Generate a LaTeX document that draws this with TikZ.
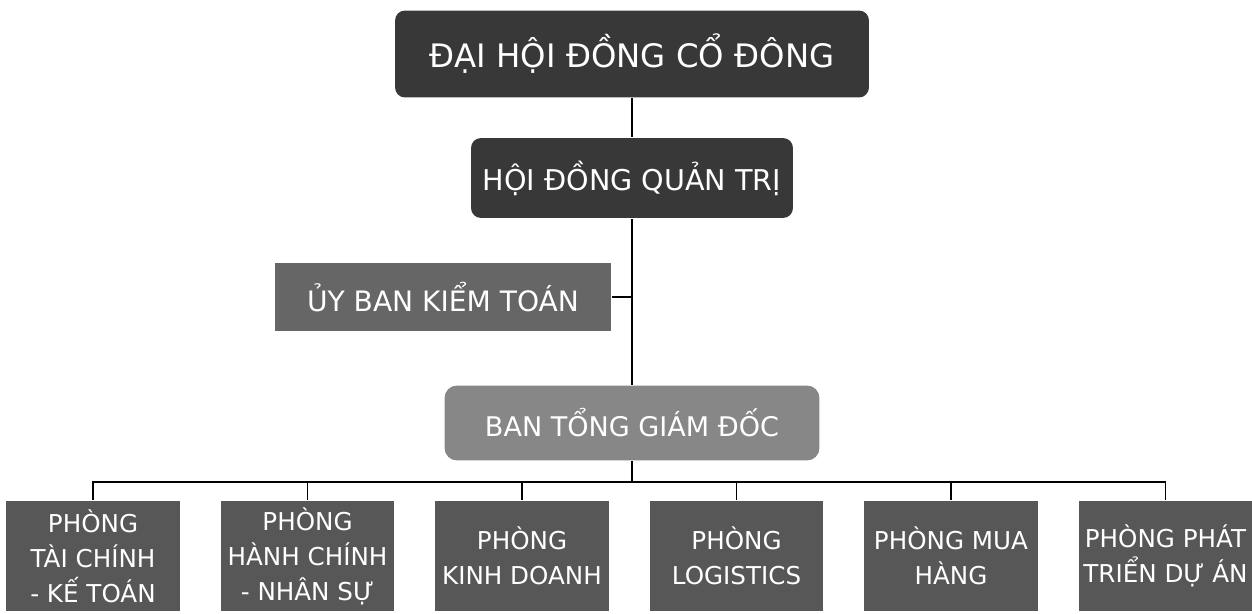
\documentclass[tikz,border=0pt]{standalone}
\usepackage{fontspec}
\setmainfont{DejaVu Sans}
\tikzset{
  board/.style={fill=black!78, text=white, rounded corners=0.2cm, inner sep=0pt},
  committee/.style={fill=black!60, text=white, inner sep=0pt},
  direction/.style={fill=black!47, text=white, rounded corners=0.25cm, inner sep=0pt},
  dept/.style={fill=black!66, text=white, inner sep=0pt, align=center,
    minimum width=3.48cm, minimum height=2.2cm, font=\fontsize{14}{20}\selectfont}
}
\begin{document}
\begin{tikzpicture}[x=0.02cm, y=-0.02cm, line width=1.1pt]
    \useasboundingbox (0,0) rectangle (1252,614);
    \node[board, minimum width=9.48cm, minimum height=1.74cm, font=\fontsize{18.4}{22}\selectfont] (DHCD) at (632,54) {ĐẠI HỘI ĐỒNG CỔ ĐÔNG};
    \node[board, minimum width=6.44cm, minimum height=1.6cm, font=\fontsize{16.3}{20}\selectfont] (HDQT) at (632,178) {HỘI ĐỒNG QUẢN TRỊ};
    \node[committee, minimum width=6.74cm, minimum height=1.36cm, font=\fontsize{16}{20}\selectfont] (UBKT) at (443,297) {ỦY BAN KIỂM TOÁN};
    \node[direction, minimum width=7.5cm, minimum height=1.5cm, font=\fontsize{15.4}{20}\selectfont] (BTGD) at (632,423) {BAN TỔNG GIÁM ĐỐC};
    \coordinate (Bus) at (632,482);
    \draw (DHCD) -- (HDQT);
    \draw (HDQT) -- (BTGD);
    \draw (UBKT) -- (UBKT -| HDQT);
    \draw (BTGD) -- (Bus);
    % departments
    \foreach \name/\x/\txt in {TCKT/93/{PHÒNG\\TÀI CHÍNH\\- KẾ TOÁN},
        HCNS/307.5/{PHÒNG\\HÀNH CHÍNH\\- NHÂN SỰ},
        KD/522/{PHÒNG\\KINH DOANH},
        LOG/736.5/{PHÒNG\\LOGISTICS},
        MH/951/{PHÒNG MUA\\HÀNG},
        PTDA/1165.5/{PHÒNG PHÁT\\TRIỂN DỰ ÁN}} {
      \node[dept] (\name) at (\x,556) {\txt};
      \draw (Bus) -| (\name);
    }
  \end{tikzpicture}
\end{document}
